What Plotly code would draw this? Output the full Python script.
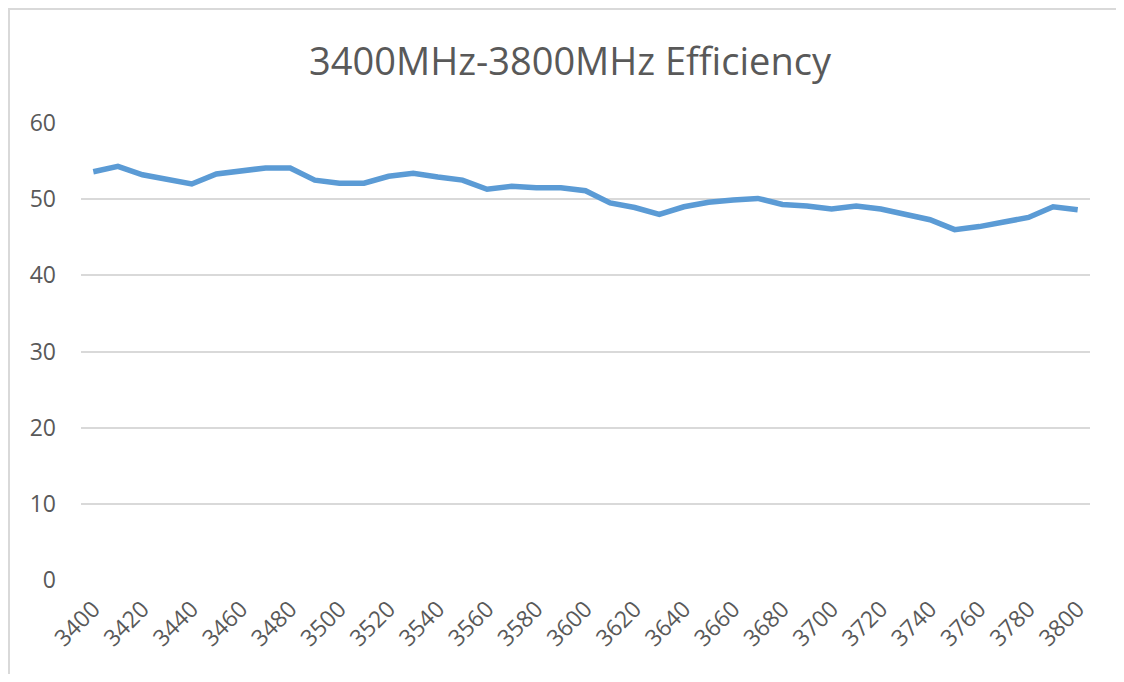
import plotly.graph_objects as go

freq_mhz = list(range(3400, 3801, 10))
efficiency = [
    53.6, 54.3, 53.2, 52.6, 52.0, 53.3, 53.7, 54.1, 54.1, 52.5,
    52.1, 52.1, 53.0, 53.4, 52.9, 52.5, 51.3, 51.7, 51.5, 51.5,
    51.1, 49.5, 48.9, 48.0, 49.0, 49.6, 49.9, 50.1, 49.3, 49.1,
    48.7, 49.1, 48.7, 48.0, 47.3, 46.0, 46.4, 47.0, 47.6, 49.0, 48.6,
]
x_tick_vals = list(range(3400, 3801, 20))
x_tick_text = [str(v) for v in x_tick_vals]
y_tick_vals = [0, 10, 20, 30, 40, 50, 60]

title_text = "3400MHz-3800MHz Efficiency"

# page body has an 8px margin, so the figure is drawn at (8, 8)
OFF = 8
W, H = 1124 - 2 * OFF, 682 - 2 * OFF
L = 81 - OFF
T = 123 - OFF
R = W - (1090 - OFF)
B = H - (580 - OFF)

fig = go.Figure()
fig.add_trace(go.Scatter(
    x=freq_mhz, y=efficiency, mode="lines",
    line=dict(color="#5B9BD5", width=5.5),
    hoverinfo="x+y", showlegend=False,
))

font_family = "Open Sans, Noto Sans, DejaVu Sans, sans-serif"

fig.update_layout(
    width=W, height=H,
    margin=dict(l=L, r=R, t=T, b=B, autoexpand=False),
    paper_bgcolor="white", plot_bgcolor="white",
    title=dict(text=title_text, x=(570 - OFF) / W, xanchor="center",
               y=1 - (62 - OFF) / H, yanchor="middle",
               font=dict(family=font_family, size=38, color="#595959")),
    xaxis=dict(range=[3395, 3805], tickmode="array", tickvals=x_tick_vals, ticktext=x_tick_text,
               tickangle=-45, tickfont=dict(family=font_family, size=23, color="#595959"),
               showgrid=False, zeroline=False, showline=False, ticks="", ticklen=0,
               ticklabelstandoff=10),
    yaxis=dict(range=[0, 60], tickmode="array", tickvals=y_tick_vals,
               tickfont=dict(family=font_family, size=23, color="#595959"),
               showgrid=True, gridcolor="#D9D9D9", gridwidth=2, zeroline=False,
               showline=False, ticks="", ticklabelstandoff=24),
)

pw = W - L - R
ph = H - T - B
def px_x(p):
    return (p - L) / pw
def px_y(p):
    return (H - B - p) / ph

fig.add_shape(type="line", xref="paper", yref="paper",
              x0=px_x(0), x1=px_x(W), y0=px_y(1), y1=px_y(1),
              line=dict(color="#D9D9D9", width=2))
fig.add_shape(type="line", xref="paper", yref="paper",
              x0=px_x(1), x1=px_x(1), y0=px_y(1), y1=px_y(H),
              line=dict(color="#D9D9D9", width=2))

fig.write_html("out.html")
